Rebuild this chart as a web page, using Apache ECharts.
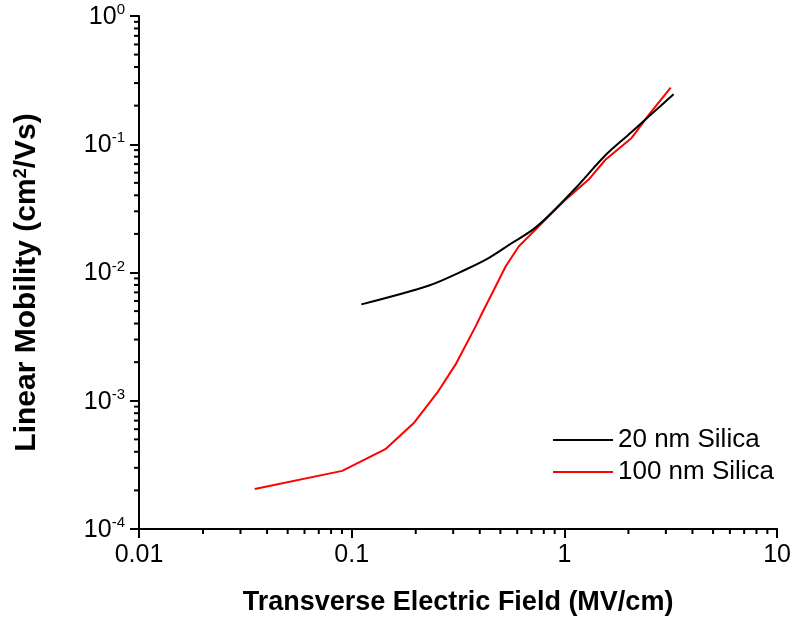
<!DOCTYPE html>
<html>
<head>
<meta charset="utf-8">
<script src="https://cdn.jsdelivr.net/npm/echarts@6/dist/echarts.min.js"></script>
<style>html,body{margin:0;padding:0;background:#fff}#c{width:794px;height:621px}</style>
</head>
<body>
<div id="c"></div>
<script>
var seriesNames = ['20 nm Silica', '100 nm Silica'];
var silica20 = [
  [0.111, 0.00564], [0.231, 0.00792], [0.344, 0.01055],
  [0.442, 0.0130], [0.568, 0.0170], [0.706, 0.0214], [0.845, 0.0278],
  [1.13, 0.0456], [1.559, 0.0820], [2.00, 0.1186], [2.49, 0.1645], [3.26, 0.245]
];
var silica100 = [
  [0.035, 2.05e-4], [0.0902, 2.84e-4], [0.144, 4.19e-4], [0.197, 6.77e-4],
  [0.253, 1.16e-3], [0.308, 1.92e-3], [0.383, 3.82e-3],
  [0.411, 4.86e-3], [0.467, 7.37e-3], [0.530, 0.0112], [0.611, 0.0160],
  [0.732, 0.0216], [0.876, 0.0292], [1.012, 0.0370], [1.30, 0.053],
  [1.559, 0.0757], [2.07, 0.112], [2.53, 0.175], [3.16, 0.277]
];
var xTickLabels = ['0.01', '0.1', '1', '10'];
var xDecades = [0.01, 0.1, 1];
var yDecades = [1e-4, 1e-3, 1e-2, 1e-1];
var minorMultipliers = [2, 3, 4, 5, 6, 7, 8, 9];

var FONT = "'Liberation Sans', Arial, sans-serif";
var xMin = 0.01, xMax = 10, yMin = 1e-4, yMax = 1;

var xMinor = [], yMinor = [];
xDecades.forEach(function (d) { minorMultipliers.forEach(function (m) { xMinor.push([d * m, yMin]); }); });
yDecades.forEach(function (d) { minorMultipliers.forEach(function (m) { yMinor.push([xMin, d * m]); }); });

var chart = echarts.init(document.getElementById('c'));
chart.setOption({
  animation: false,
  backgroundColor: '#fff',
  grid: { left: 139, right: 15, top: 16, bottom: 91 },
  legend: {
    orient: 'vertical', left: 548, top: 422,
    icon: 'rect', itemWidth: 60, itemHeight: 2, itemGap: 6,
    textStyle: { fontSize: 26, color: '#000', fontFamily: FONT },
    data: seriesNames
  },
  xAxis: {
    type: 'log', logBase: 10, min: xMin, max: xMax,
    name: 'Transverse Electric Field (MV/cm)',
    nameLocation: 'middle', nameGap: 60,
    nameTextStyle: { fontSize: 27, fontWeight: 'bold', color: '#000', fontFamily: FONT },
    axisLine: { lineStyle: { color: '#000', width: 2 } },
    axisTick: { length: 9, lineStyle: { color: '#000', width: 2 } },
    axisLabel: {
      margin: 14, fontSize: 25, color: '#000', fontFamily: FONT,
      formatter: function (v) { return xTickLabels[Math.round(Math.log10(v)) + 2]; }
    },
    splitLine: { show: false }
  },
  yAxis: {
    type: 'log', logBase: 10, min: yMin, max: yMax,
    name: 'Linear Mobility (cm{sup|2}/Vs)',
    nameLocation: 'middle', nameGap: 97, nameRotate: 90,
    nameTextStyle: {
      fontSize: 30, fontWeight: 'bold', color: '#000', fontFamily: FONT,
      padding: [0, 20, 0, 0],
      rich: { sup: { fontSize: 18, fontWeight: 'bold', verticalAlign: 'top', color: '#000', fontFamily: FONT, lineHeight: 18 } }
    },
    axisLine: { lineStyle: { color: '#000', width: 2 } },
    axisTick: { length: 9, lineStyle: { color: '#000', width: 2 } },
    axisLabel: {
      margin: 14, color: '#000', fontFamily: FONT,
      formatter: function (v) { return '{b|10}{sup|' + Math.round(Math.log10(v)) + '}'; },
      rich: {
        b: { fontSize: 25, color: '#000', fontFamily: FONT, lineHeight: 27, verticalAlign: 'bottom' },
        sup: { fontSize: 15, color: '#000', fontFamily: FONT, lineHeight: 15, verticalAlign: 'top' }
      }
    },
    splitLine: { show: false }
  },
  series: [
    {
      name: seriesNames[0], type: 'line', data: silica20, showSymbol: false, symbol: 'none', smooth: 0.3,
      lineStyle: { color: '#000', width: 2 }, itemStyle: { color: '#000' }, z: 3
    },
    {
      name: seriesNames[1], type: 'line', data: silica100, showSymbol: false, symbol: 'none',
      lineStyle: { color: '#ff0000', width: 2 }, itemStyle: { color: '#ff0000' }, z: 2
    },
    {
      type: 'custom', data: xMinor, clip: false, silent: true, z: 5,
      renderItem: function (params, api) {
        var p = api.coord([api.value(0), api.value(1)]);
        return { type: 'line', shape: { x1: p[0], y1: p[1], x2: p[0], y2: p[1] + 5 }, style: { stroke: '#000', lineWidth: 2 } };
      }
    },
    {
      type: 'custom', data: yMinor, clip: false, silent: true, z: 5,
      renderItem: function (params, api) {
        var p = api.coord([api.value(0), api.value(1)]);
        return { type: 'line', shape: { x1: p[0], y1: p[1], x2: p[0] - 5, y2: p[1] }, style: { stroke: '#000', lineWidth: 2 } };
      }
    }
  ]
});
</script>
</body>
</html>
